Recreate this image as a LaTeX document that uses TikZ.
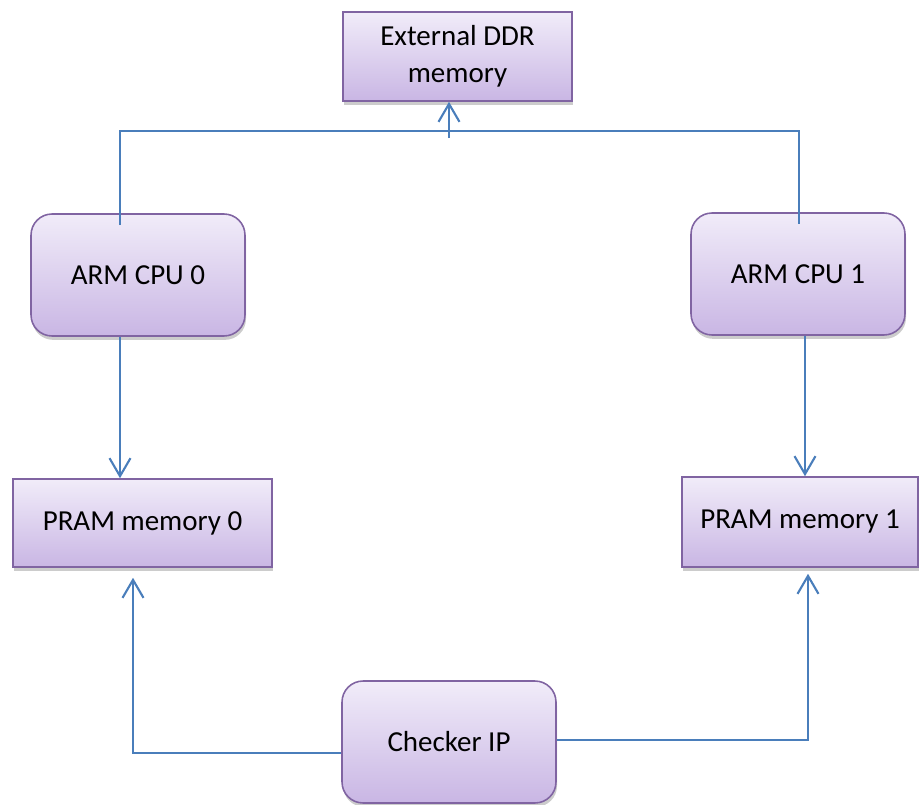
\documentclass[tikz,border=0pt]{standalone}
\usepackage{fontspec}
\setmainfont{Carlito}
\usetikzlibrary{arrows.meta,shadows}

\definecolor{BoxTop}{HTML}{F1ECF9}
\definecolor{BoxBottom}{HTML}{C9B6E4}
\definecolor{BoxEdge}{HTML}{8064A2}
\definecolor{LinkBlue}{HTML}{4A7EBB}

\tikzset{
    block/.style={draw=BoxEdge, line width=0.9pt, top color=BoxTop, bottom color=BoxBottom,
        drop shadow={shadow xshift=0.6pt, shadow yshift=-2.2pt, opacity=0.4},
        font=\fontsize{16.5}{21}\selectfont, align=center, inner sep=0pt},
    cpubox/.style={block, rounded corners=0.42cm, minimum width=4.28cm, minimum height=2.44cm},
    membox/.style={block, minimum height=1.76cm},
    link/.style={draw=LinkBlue, line width=1.2pt},
    arr/.style={link, -{Straight Barb[length=0.36cm, width=0.42cm, line width=1.2pt]}}
}

\begin{document}
\begin{tikzpicture}[x=0.02cm, y=-0.02cm]
        \useasboundingbox (0,0) rectangle (920,805);

        \node[membox, minimum width=4.58cm, minimum height=1.78cm] (ddr) at (457.5,56.5) {External DDR\\memory};
        \node[cpubox] (cpu0) at (138,275) {ARM CPU 0};
        \node[cpubox] (cpu1) at (798,274) {ARM CPU 1};
        \node[membox, minimum width=5.18cm] (pram0) at (142.5,523) {PRAM memory 0};
        \node[membox, minimum width=4.72cm, minimum height=1.8cm] (pram1) at (800,522) {PRAM memory 1};
        \node[cpubox] (checker) at (449,742) {Checker IP};

        % shared bus to the DDR
        \coordinate (busL) at (120,131);
        \coordinate (busR) at (799,131);
        \coordinate (busM) at (449,138);
        \draw[link] ([yshift=-0.24cm]cpu0.north -| busL) -- (busL) -- (busR) -- ([yshift=-0.24cm]cpu1.north -| busR);
        \draw[arr] (busM) -- (ddr.south -| busM);

        \coordinate (down0) at (120,336);
        \coordinate (down1) at (805,335);
        \draw[arr] (cpu0.south -| down0) -- (pram0.north -| down0);
        \draw[arr] (cpu1.south -| down1) -- (pram1.north -| down1);

        % checker feeds both PRAMs
        \coordinate (chkL) at (133,753);
        \coordinate (chkR) at (808,740);
        \draw[arr] (checker.west |- chkL) -- (chkL) -- ([yshift=-0.2cm]pram0.south -| chkL);
        \draw[arr] (checker.east |- chkR) -- (chkR) -- ([yshift=-0.12cm]pram1.south -| chkR);
    \end{tikzpicture}
\end{document}
